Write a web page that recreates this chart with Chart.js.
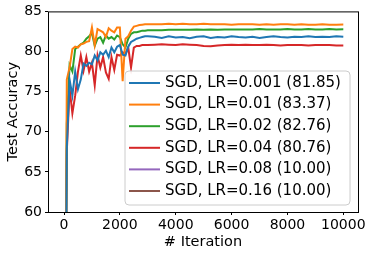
<!DOCTYPE html>
<html>
<head>
<meta charset="utf-8">
<script src="https://cdn.jsdelivr.net/npm/chart.js@4/dist/chart.umd.min.js"></script>
<style>
html,body{margin:0;padding:0;background:#fff;}
canvas{display:block;}
</style>
</head>
<body>
<canvas id="c" width="374" height="258"></canvas>
<script>
// ---- data ----
const iterations = [0,100,200,300,400,500,600,700,800,900,1000,1100,1200,1300,1400,1500,1600,1700,1800,1900,2000,2100,2200,2300,2400,2500,2600,2700,2800,2900,3000,
  3250,3500,3750,4000,4250,4500,4750,5000,5250,5500,5750,6000,6250,6500,6750,7000,7250,7500,7750,8000,8250,8500,8750,9000,9250,9500,9750,10000];

const labels = ['SGD, LR=0.001 (81.85)','SGD, LR=0.01 (83.37)','SGD, LR=0.02 (82.76)','SGD, LR=0.04 (80.76)','SGD, LR=0.08 (10.00)','SGD, LR=0.16 (10.00)'];

const lr0001 = [10,68.0,76.5,74.5,77.5,75.3,76.5,78.5,78.2,78.6,78.4,79.5,78.9,79.9,79.6,80.1,79.3,80.5,79.9,80.6,80.8,79.6,79.5,80.6,81.2,81.4,81.6,81.7,81.8,81.9,81.9,
  81.85,81.7,81.9,81.75,81.8,81.65,81.85,81.9,81.7,81.8,81.75,81.9,81.8,81.75,81.85,81.7,81.8,81.9,81.8,81.75,81.85,81.8,81.9,81.8,81.85,81.8,81.9,81.85];
const lr001 = [10,76.5,78.0,80.3,80.6,80.5,80.9,81.0,81.2,81.3,83.0,80.8,82.8,82.6,82.4,81.8,82.9,82.6,82.4,83.0,83.0,76.3,81.6,81.9,82.6,83.1,83.2,83.3,83.35,83.4,83.4,
  83.4,83.4,83.45,83.4,83.45,83.4,83.4,83.45,83.4,83.4,83.4,83.35,83.4,83.4,83.4,83.35,83.4,83.35,83.4,83.4,83.35,83.4,83.35,83.35,83.4,83.35,83.35,83.37];
const lr002 = [10,71.0,78.3,77.5,80.3,80.6,80.9,81.1,81.6,81.9,82.3,80.7,81.6,81.8,81.1,82.0,81.6,81.8,81.5,82.0,81.8,80.9,80.5,81.6,82.2,82.4,82.4,82.5,82.6,82.6,82.65,
  82.65,82.65,82.7,82.7,82.7,82.7,82.75,82.7,82.75,82.7,82.75,82.75,82.75,82.75,82.75,82.8,82.75,82.75,82.75,82.8,82.75,82.75,82.8,82.75,82.75,82.8,82.75,82.76];
const lr004 = [10,67.5,75.4,72.3,74.5,77.5,79.5,77.6,79.3,77.5,78.6,75.8,79.5,78.0,79.3,77.4,76.6,79.3,77.7,79.6,79.5,79.9,79.7,80.5,78.0,80.5,80.7,80.7,80.8,80.8,80.8,
  80.85,80.9,80.85,80.8,80.9,80.85,80.8,80.7,80.65,80.75,80.8,80.85,80.8,80.85,80.8,80.8,80.85,80.8,80.75,80.8,80.8,80.8,80.75,80.8,80.8,80.8,80.75,80.76];
const lr008 = [10,10,10,10,10,10,10,10,10,10,10,10,10,10,10,10,10,10,10,10,10,10,10,10,10,10,10,10,10,10,10,
  10,10,10,10,10,10,10,10,10,10,10,10,10,10,10,10,10,10,10,10,10,10,10,10,10,10,10,10];
const lr016 = [10,10,10,10,10,10,10,10,10,10,10,10,10,10,10,10,10,10,10,10,10,10,10,10,10,10,10,10,10,10,10,
  10,10,10,10,10,10,10,10,10,10,10,10,10,10,10,10,10,10,10,10,10,10,10,10,10,10,10,10];

const xTickValues = [0,2000,4000,6000,8000,10000];
const yTickValues = [60,65,70,75,80,85];
const xTitle = '# Iteration';
const yTitle = 'Test Accuracy';

// ---- chart ----
const seriesValues = [lr0001, lr001, lr002, lr004, lr008, lr016];
const colors = ['#1f77b4','#ff7f0e','#2ca02c','#d62728','#9467bd','#8c564b'];
const FONT = "'DejaVu Sans', sans-serif";

const datasets = seriesValues.map((vals, i) => ({
  label: labels[i],
  data: vals.map((v, k) => ({x: iterations[k], y: v})),
  borderColor: colors[i],
  backgroundColor: colors[i],
  borderWidth: 2,
  pointRadius: 0,
  tension: 0,
  fill: false
}));

const framePlugin = {
  id: 'frameAndLegend',
  afterDraw(chart) {
    const {ctx, chartArea: a} = chart;
    ctx.save();
    // spines
    ctx.strokeStyle = '#000';
    ctx.lineWidth = 1;
    ctx.strokeRect(a.left + 0.5, a.top + 0.5, a.right - a.left, a.bottom - a.top);
    // legend
    const bx = a.right - 233, by = a.bottom - 141, bw = 225, bh = 134, r = 4;
    ctx.beginPath();
    ctx.moveTo(bx + r, by);
    ctx.lineTo(bx + bw - r, by);
    ctx.arcTo(bx + bw, by, bx + bw, by + r, r);
    ctx.lineTo(bx + bw, by + bh - r);
    ctx.arcTo(bx + bw, by + bh, bx + bw - r, by + bh, r);
    ctx.lineTo(bx + r, by + bh);
    ctx.arcTo(bx, by + bh, bx, by + bh - r, r);
    ctx.lineTo(bx, by + r);
    ctx.arcTo(bx, by, bx + r, by, r);
    ctx.closePath();
    ctx.fillStyle = 'rgba(255,255,255,0.8)';
    ctx.fill();
    ctx.strokeStyle = '#cccccc';
    ctx.lineWidth = 1;
    ctx.stroke();
    ctx.font = '15px ' + FONT;
    ctx.textBaseline = 'middle';
    ctx.textAlign = 'left';
    chart.data.datasets.forEach((ds, i) => {
      const y = by + 12 + i * 21.6;
      ctx.strokeStyle = ds.borderColor;
      ctx.lineWidth = 2;
      ctx.beginPath();
      ctx.moveTo(bx + 4, y);
      ctx.lineTo(bx + 35, y);
      ctx.stroke();
      ctx.fillStyle = '#000';
      ctx.fillText(ds.label, bx + 40, y);
    });
    ctx.restore();
  }
};

new Chart(document.getElementById('c'), {
  type: 'line',
  data: {datasets},
  plugins: [framePlugin],
  options: {
    responsive: false,
    animation: false,
    devicePixelRatio: 1,
    layout: {padding: {left: 0, top: 11, right: 16, bottom: 0}},
    plugins: {legend: {display: false}, tooltip: {enabled: false}},
    scales: {
      x: {
        type: 'linear',
        min: -573,
        max: 10526,
        afterBuildTicks: s => { s.ticks = xTickValues.map(v => ({value: v})); },
        afterFit: s => { s.height = 46; },
        grid: {display: true, drawOnChartArea: false, drawTicks: true, tickLength: 3, color: '#000', tickColor: '#000'},
        border: {display: false},
        ticks: {color: '#000', font: {family: FONT, size: 14}, padding: 2, maxRotation: 0, autoSkip: false, callback: v => String(v)},
        title: {display: true, text: xTitle, color: '#000', font: {family: FONT, size: 14.5}, padding: {top: 0, bottom: 7}}
      },
      y: {
        type: 'linear',
        min: 60,
        max: 85,
        afterBuildTicks: s => { s.ticks = yTickValues.map(v => ({value: v})); },
        afterFit: s => { s.width = 48; },
        grid: {display: true, drawOnChartArea: false, drawTicks: true, tickLength: 3, color: '#000', tickColor: '#000'},
        border: {display: false},
        ticks: {color: '#000', font: {family: FONT, size: 14}, padding: 3, callback: v => String(v)},
        title: {display: true, text: yTitle, color: '#000', font: {family: FONT, size: 14.5}, padding: {top: 4.6, bottom: 0}}
      }
    }
  }
});
</script>
</body>
</html>
